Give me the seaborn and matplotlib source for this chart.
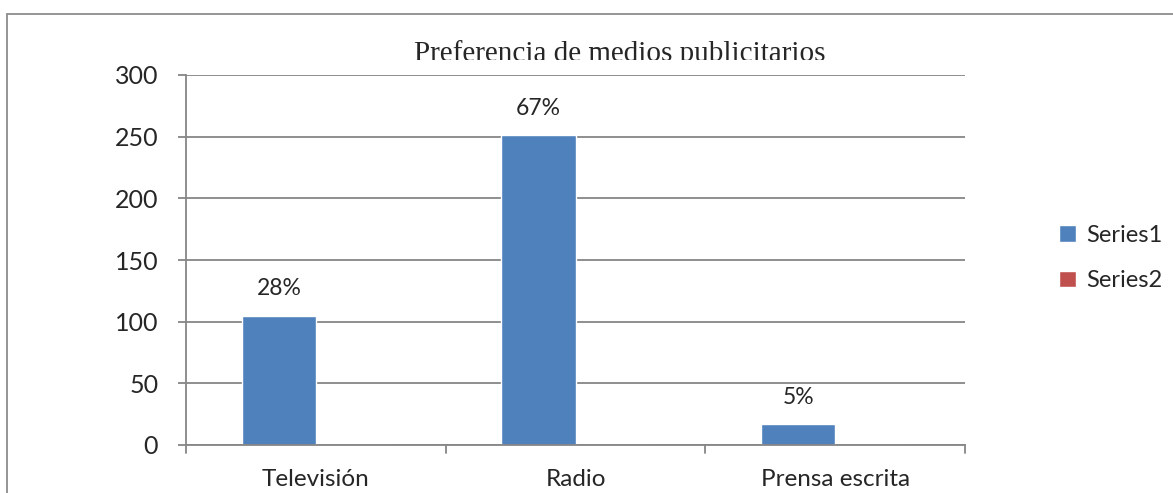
import seaborn as sns
import pandas as pd
import numpy as np
import matplotlib.pyplot as plt
from matplotlib.patches import Rectangle

categories = ['Televisión', 'Radio', 'Prensa escrita']
series1 = [105, 251, 17]
series2 = [0, 0, 0]
series_names = ['Series1', 'Series2']
yticks = [0, 50, 100, 150, 200, 250, 300]

df = pd.DataFrame({
    'medio': categories * 2,
    'serie': [series_names[0]] * 3 + [series_names[1]] * 3,
    'valor': series1 + series2,
})

sns.set_style('white')
plt.rcParams['font.family'] = ['Lato', 'DejaVu Sans']

W, H = 1173, 493
fig = plt.figure(figsize=(W / 100, H / 100), dpi=100)
ax = fig.add_axes([186 / W, 1 - 445 / H, (965 - 186) / W, (445 - 75) / H])

grid_c = '#868686'
sns.barplot(data=df, x='medio', y='valor', hue='serie', order=categories,
            palette=['#4F81BD', '#C0504D'], width=0.57, saturation=1,
            ax=ax, legend=True)

ax.set_ylim(0, 300)
ax.set_xlim(-0.5, 2.5)
ax.set_yticks(yticks)
ax.set_yticklabels([str(t) for t in yticks])
ax.yaxis.grid(True, color=grid_c, linewidth=1.3)
ax.set_axisbelow(True)
ax.set_xlabel('')
ax.set_ylabel('')

for s in ['top', 'right']:
    ax.spines[s].set_visible(False)
for s in ['left', 'bottom']:
    ax.spines[s].set_color(grid_c)
    ax.spines[s].set_linewidth(1.3)

# category labels centred, tick marks at the boundaries
ax.set_xticks([0, 1, 2])
ax.set_xticklabels(categories, fontsize=17.5)
ax.tick_params(axis='x', length=0, pad=17)
for b in [-0.5, 0.5, 1.5, 2.5]:
    ax.plot([b, b], [0, -8 / (445 - 75)], transform=ax.get_xaxis_transform(),
            clip_on=False, color=grid_c, linewidth=1.3)
ax.tick_params(axis='y', left=True, length=6, width=1.3, color=grid_c,
               labelsize=18, pad=14)

# percentage labels above the Series1 bars
total = sum(series1)
for i, v in enumerate(series1):
    ax.text(i - 0.57 / 4, v + 13, f'{round(v / total * 100)}%',
            ha='center', va='bottom', fontsize=16.5)

# legend on the right
handles, labels = ax.get_legend_handles_labels()
ax.legend(handles, labels, loc='center left', bbox_to_anchor=(1038 / W, 1 - 258 / H),
          bbox_transform=fig.transFigure, frameon=False, fontsize=17,
          handlelength=0.7, handleheight=0.7, handletextpad=0.45, labelspacing=1.05)

# title, clipped at the bottom like the original
fig.text(620 / W, 1 - 61 / H, 'Preferencia de medios publicitarios',
         ha='center', va='baseline', fontsize=21, family='Liberation Serif')
fig.patches.append(Rectangle((380 / W, 1 - 73 / H), 480 / W, 13 / H,
                             transform=fig.transFigure, facecolor='white',
                             edgecolor='none', zorder=5))

# outer chart border
fig.patches.append(Rectangle((7 / W, -0.05), 1.1, 1 - 14 / H + 0.05,
                             transform=fig.transFigure, facecolor='none',
                             edgecolor='#8c8c8c', linewidth=1.3, zorder=6))

fig.savefig('out.png', dpi=100)
